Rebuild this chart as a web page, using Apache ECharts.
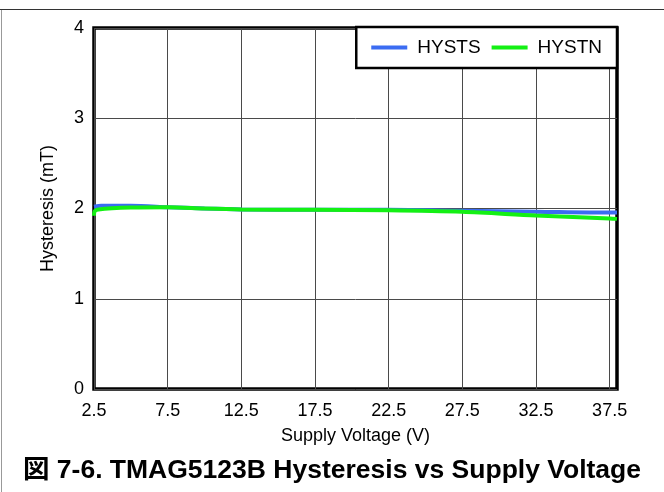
<!DOCTYPE html>
<html>
<head>
<meta charset="utf-8">
<script src="https://cdn.jsdelivr.net/npm/echarts@6/dist/echarts.min.js"></script>
<style>
  html, body { margin: 0; padding: 0; background: #fff; }
  #chart { width: 664px; height: 492px; }
</style>
</head>
<body>
<div id="chart"></div>
<script>
// x tick labels (V)
var xTicks = [2.5, 7.5, 12.5, 17.5, 22.5, 27.5, 32.5, 37.5];
// HYSTS
var hystsV = [2.5, 3, 5, 7.5, 10, 12.5, 17.5, 22.5, 27.5, 32.5, 37.5, 38];
var hystsVal = [2.02, 2.03, 2.03, 2.015, 2.0, 1.99, 1.985, 1.985, 1.975, 1.965, 1.955, 1.955];
// HYSTN
var hystnV = [2.5, 2.55, 2.8, 5, 7.5, 10, 12.5, 17.5, 22.5, 27.5, 32.5, 37.5, 38];
var hystnVal = [1.92, 1.97, 1.99, 2.01, 2.015, 2.0, 1.99, 1.985, 1.98, 1.963, 1.922, 1.89, 1.885];

var font = "'Liberation Sans', Arial, 'Noto Sans CJK JP', sans-serif";

function pairs(xs, ys) {
  return xs.map(function (x, i) { return [x, ys[i]]; });
}

var myChart = echarts.init(document.getElementById("chart"), null, { renderer: "canvas" });

var option = {
  backgroundColor: "#fff",
  animation: false,
  title: {
    text: "図 7-6. TMAG5123B Hysteresis vs Supply Voltage",
    left: "center",
    top: 452,
    textStyle: { fontFamily: font, fontSize: 26.5, fontWeight: "bold", color: "#000" }
  },
  legend: {
    right: 47,
    top: 27,
    padding: [11, 15, 11, 15],
    itemGap: 11,
    itemWidth: 36,
    itemHeight: 4,
    icon: "rect",
    borderColor: "#000",
    borderWidth: 2.5,
    backgroundColor: "#fff",
    textStyle: { fontFamily: font, fontSize: 19, color: "#000", padding: [0, 0, 0, 5] },
    data: ["HYSTS", "HYSTN"]
  },
  grid: {
    left: 94,
    top: 28,
    width: 523,
    height: 361,
    containLabel: false,
    outerBoundsMode: "none",
    show: true,
    borderColor: "#000",
    borderWidth: 3.5,
    backgroundColor: "transparent"
  },
  xAxis: {
    type: "value",
    min: 2.5,
    max: 38,
    name: "Supply Voltage (V)",
    nameLocation: "middle",
    nameGap: 38,
    nameTextStyle: { fontFamily: font, fontSize: 18, color: "#000" },
    axisLine: { show: false },
    axisTick: { show: false, customValues: xTicks },
    axisLabel: {
      customValues: xTicks,
      margin: 13,
      fontFamily: font,
      fontSize: 18,
      color: "#000",
      formatter: function (v) { return v.toFixed(1); }
    },
    splitLine: { show: true, lineStyle: { color: "#4a4a4a", width: 1 } }
  },
  yAxis: {
    type: "value",
    min: 0,
    max: 4,
    interval: 1,
    name: "Hysteresis (mT)",
    nameLocation: "middle",
    nameGap: 37,
    nameTextStyle: { fontFamily: font, fontSize: 18, color: "#000" },
    axisLine: { show: false },
    axisTick: { show: false },
    axisLabel: { margin: 10, fontFamily: font, fontSize: 18, color: "#000" },
    splitLine: { show: true, lineStyle: { color: "#4a4a4a", width: 1 } }
  },
  series: [
    {
      name: "HYSTS",
      type: "line",
      showSymbol: false,
      smooth: 0.3,
      color: "#3b6cf2",
      lineStyle: { width: 4, color: "#3b6cf2" },
      data: pairs(hystsV, hystsVal)
    },
    {
      name: "HYSTN",
      type: "line",
      showSymbol: false,
      smooth: 0.3,
      color: "#14f014",
      lineStyle: { width: 4, color: "#14f014" },
      data: pairs(hystnV, hystnVal)
    }
  ],
  graphic: [
    { type: "line", shape: { x1: 0, y1: 9.5, x2: 664, y2: 9.5 }, style: { stroke: "#333", lineWidth: 1 } },
    { type: "line", shape: { x1: 1.5, y1: 10, x2: 1.5, y2: 492 }, style: { stroke: "#999", lineWidth: 1 } }
  ]
};

myChart.setOption(option);
</script>
</body>
</html>
